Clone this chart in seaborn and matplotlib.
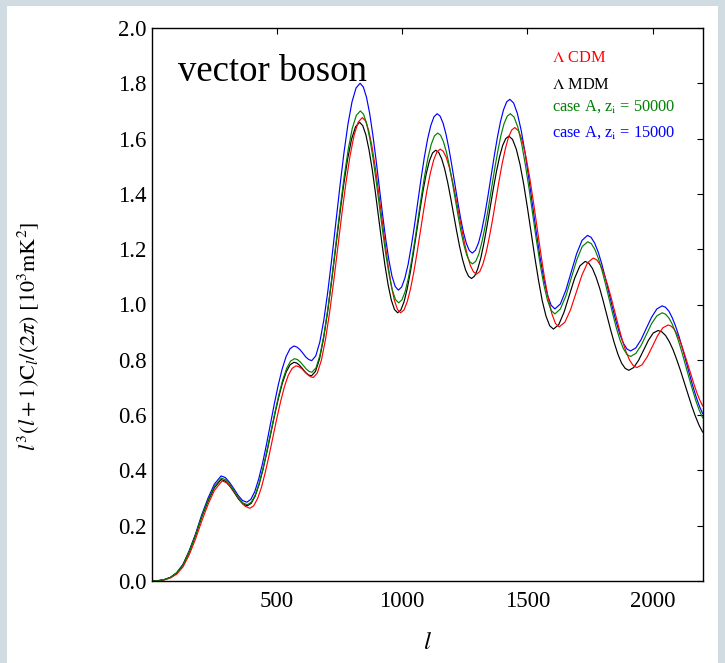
import matplotlib
matplotlib.use("Agg")
import matplotlib.pyplot as plt
from matplotlib.patches import Rectangle
import seaborn as sns
import pandas as pd

# ---- spectra: multipole l and l^3(l+1)C_l/(2pi) in 10^3 mK^2 ----
l_cdm = [0, 25, 50, 75, 100, 125, 150, 175, 200, 225, 250,
         281, 299.5, 318, 336.5, 355, 373.5,
         392, 407.3, 422.7, 438, 453.3, 468.7, 484, 499.3, 514.7, 530, 545.3, 560.7,
         576, 587.5, 599, 610.5, 622, 633.5,
         645, 661.3, 677.7, 694, 710.3, 726.7, 743, 759.3, 775.7, 792, 808.3, 824.7,
         841, 853.8, 866.5, 879.3, 892, 904.8, 917.5, 930.3, 943, 955.8, 968.5, 981.3,
         994, 1007.2, 1020.3, 1033.5, 1046.7, 1059.8, 1073, 1086.2, 1099.3, 1112.5, 1125.7, 1138.8,
         1152, 1164.1, 1176.2, 1188.3, 1200.3, 1212.4, 1224.5, 1236.6, 1248.7, 1260.8, 1272.8, 1284.9,
         1297, 1309.8, 1322.5, 1335.3, 1348, 1360.8, 1373.5, 1386.3, 1399, 1411.8, 1424.5, 1437.3,
         1450, 1464.8, 1479.5, 1494.3, 1509, 1523.8, 1538.5, 1553.3, 1568, 1582.8, 1597.5, 1612.3,
         1627, 1649.7, 1672.3, 1695, 1717.7, 1740.3,
         1763, 1777.5, 1792, 1806.5, 1821, 1835.5, 1850, 1864.5, 1879, 1893.5, 1908, 1922.5,
         1937, 1957.8, 1978.7, 1999.5, 2020.3, 2041.2,
         2062, 2073.5, 2085, 2096.5, 2108, 2119.5, 2131, 2142.5, 2154, 2165.5, 2177, 2188.5, 2200]
cl_cdm = [0, 0.001, 0.004, 0.011, 0.025, 0.051, 0.095, 0.152, 0.217, 0.277, 0.327,
          0.362, 0.355, 0.337, 0.313, 0.288, 0.270,
          0.263, 0.272, 0.298, 0.338, 0.392, 0.454, 0.521, 0.587, 0.649, 0.703, 0.744, 0.769,
          0.778, 0.775, 0.768, 0.757, 0.747, 0.739,
          0.736, 0.752, 0.799, 0.874, 0.971, 1.084, 1.206, 1.328, 1.441, 1.538, 1.613, 1.660,
          1.676, 1.664, 1.629, 1.573, 1.500, 1.414, 1.323, 1.232, 1.147, 1.073, 1.017, 0.982,
          0.970, 0.980, 1.010, 1.057, 1.118, 1.189, 1.266, 1.343, 1.414, 1.475, 1.522, 1.552,
          1.562, 1.554, 1.532, 1.496, 1.449, 1.395, 1.336, 1.278, 1.223, 1.176, 1.140, 1.118,
          1.110, 1.119, 1.146, 1.188, 1.243, 1.306, 1.375, 1.444, 1.508, 1.562, 1.605, 1.631,
          1.640, 1.628, 1.592, 1.534, 1.460, 1.373, 1.280, 1.186, 1.099, 1.025, 0.967, 0.931,
          0.919, 0.936, 0.981, 1.044, 1.106, 1.151,
          1.168, 1.161, 1.142, 1.110, 1.069, 1.021, 0.970, 0.919, 0.871, 0.830, 0.799, 0.779,
          0.772, 0.782, 0.811, 0.849, 0.888, 0.916,
          0.926, 0.922, 0.912, 0.894, 0.871, 0.843, 0.811, 0.778, 0.744, 0.711, 0.680, 0.654, 0.633]

l_mdm = [0, 25, 50, 75, 100, 125, 150, 175, 200, 225, 250,
         277, 294.5, 312, 329.5, 347, 364.5,
         382, 397.5, 413, 428.5, 444, 459.5, 475, 490.5, 506, 521.5, 537, 552.5,
         568, 579.7, 591.3, 603, 614.7, 626.3,
         638, 654, 670, 686, 702, 718, 734, 750, 766, 782, 798, 814,
         830, 842.7, 855.3, 868, 880.7, 893.3, 906, 918.7, 931.3, 944, 956.7, 969.3,
         982, 994.7, 1007.3, 1020, 1032.7, 1045.3, 1058, 1070.7, 1083.3, 1096, 1108.7, 1121.3,
         1134, 1145.9, 1157.8, 1169.8, 1181.7, 1193.6, 1205.5, 1217.4, 1229.3, 1241.3, 1253.2, 1265.1,
         1277, 1289.4, 1301.8, 1314.3, 1326.7, 1339.1, 1351.5, 1363.9, 1376.3, 1388.8, 1401.2, 1413.6,
         1426, 1440.8, 1455.7, 1470.5, 1485.3, 1500.2, 1515, 1529.8, 1544.7, 1559.5, 1574.3, 1589.2,
         1604, 1625.2, 1646.3, 1667.5, 1688.7, 1709.8,
         1731, 1745.5, 1760, 1774.5, 1789, 1803.5, 1818, 1832.5, 1847, 1861.5, 1876, 1890.5,
         1905, 1924.5, 1944, 1963.5, 1983, 2002.5,
         2022, 2036.8, 2051.7, 2066.5, 2081.3, 2096.2, 2111, 2125.8, 2140.7, 2155.5, 2170.3, 2185.2, 2200]
cl_mdm = [0, 0.001, 0.005, 0.013, 0.029, 0.058, 0.106, 0.165, 0.232, 0.289, 0.337,
          0.367, 0.361, 0.343, 0.320, 0.296, 0.278,
          0.272, 0.281, 0.307, 0.348, 0.402, 0.464, 0.532, 0.599, 0.661, 0.715, 0.756, 0.782,
          0.791, 0.788, 0.779, 0.767, 0.754, 0.745,
          0.742, 0.758, 0.803, 0.876, 0.971, 1.082, 1.201, 1.319, 1.430, 1.525, 1.598, 1.643,
          1.659, 1.647, 1.613, 1.558, 1.487, 1.404, 1.315, 1.225, 1.142, 1.071, 1.016, 0.982,
          0.970, 0.980, 1.009, 1.056, 1.117, 1.188, 1.264, 1.340, 1.411, 1.472, 1.519, 1.548,
          1.558, 1.550, 1.527, 1.490, 1.442, 1.386, 1.326, 1.266, 1.210, 1.162, 1.125, 1.102,
          1.094, 1.103, 1.129, 1.169, 1.223, 1.285, 1.352, 1.418, 1.480, 1.534, 1.575, 1.600,
          1.609, 1.597, 1.562, 1.507, 1.435, 1.350, 1.260, 1.170, 1.086, 1.013, 0.958, 0.923,
          0.911, 0.927, 0.972, 1.034, 1.095, 1.140,
          1.156, 1.149, 1.130, 1.098, 1.058, 1.010, 0.959, 0.908, 0.861, 0.820, 0.788, 0.769,
          0.762, 0.772, 0.798, 0.834, 0.870, 0.897,
          0.906, 0.901, 0.888, 0.866, 0.837, 0.801, 0.762, 0.720, 0.677, 0.635, 0.597, 0.564, 0.538]

l_a50 = [0, 25, 50, 75, 100, 125, 150, 175, 200, 225, 250,
         278, 295.3, 312.7, 330, 347.3, 364.7,
         382, 397.7, 413.3, 429, 444.7, 460.3, 476, 491.7, 507.3, 523, 538.7, 554.3,
         570, 581.7, 593.3, 605, 616.7, 628.3,
         640, 656.1, 672.2, 688.3, 704.3, 720.4, 736.5, 752.6, 768.7, 784.8, 800.8, 816.9,
         833, 845.8, 858.5, 871.3, 884, 896.8, 909.5, 922.3, 935, 947.8, 960.5, 973.3,
         986, 999, 1012, 1025, 1038, 1051, 1064, 1077, 1090, 1103, 1116, 1129,
         1142, 1153.6, 1165.2, 1176.8, 1188.3, 1199.9, 1211.5, 1223.1, 1234.7, 1246.3, 1257.8, 1269.4,
         1281, 1293.6, 1306.2, 1318.7, 1331.3, 1343.9, 1356.5, 1369.1, 1381.7, 1394.2, 1406.8, 1419.4,
         1432, 1446.8, 1461.7, 1476.5, 1491.3, 1506.2, 1521, 1535.8, 1550.7, 1565.5, 1580.3, 1595.2,
         1610, 1631.8, 1653.7, 1675.5, 1697.3, 1719.2,
         1741, 1755.3, 1769.5, 1783.8, 1798, 1812.3, 1826.5, 1840.8, 1855, 1869.3, 1883.5, 1897.8,
         1912, 1933, 1954, 1975, 1996, 2017,
         2038, 2051.5, 2065, 2078.5, 2092, 2105.5, 2119, 2132.5, 2146, 2159.5, 2173, 2186.5, 2200]
cl_a50 = [0, 0.001, 0.005, 0.013, 0.030, 0.059, 0.108, 0.167, 0.235, 0.293, 0.342,
          0.372, 0.366, 0.348, 0.324, 0.300, 0.282,
          0.276, 0.285, 0.311, 0.353, 0.408, 0.472, 0.540, 0.608, 0.672, 0.727, 0.769, 0.795,
          0.804, 0.801, 0.792, 0.780, 0.767, 0.758,
          0.755, 0.771, 0.818, 0.893, 0.991, 1.105, 1.228, 1.350, 1.464, 1.562, 1.637, 1.684,
          1.700, 1.688, 1.654, 1.598, 1.527, 1.443, 1.353, 1.263, 1.180, 1.108, 1.053, 1.018,
          1.006, 1.017, 1.047, 1.096, 1.160, 1.234, 1.313, 1.393, 1.467, 1.530, 1.579, 1.610,
          1.620, 1.612, 1.588, 1.551, 1.502, 1.445, 1.384, 1.322, 1.265, 1.216, 1.179, 1.155,
          1.147, 1.156, 1.183, 1.227, 1.283, 1.348, 1.419, 1.489, 1.554, 1.611, 1.654, 1.681,
          1.690, 1.678, 1.642, 1.584, 1.509, 1.422, 1.328, 1.234, 1.147, 1.072, 1.015, 0.978,
          0.966, 0.984, 1.031, 1.097, 1.162, 1.210,
          1.227, 1.220, 1.199, 1.166, 1.123, 1.073, 1.020, 0.966, 0.916, 0.873, 0.840, 0.819,
          0.812, 0.823, 0.852, 0.891, 0.931, 0.959,
          0.970, 0.965, 0.951, 0.929, 0.898, 0.862, 0.821, 0.777, 0.733, 0.691, 0.651, 0.617, 0.590]

l_a15 = [0, 25, 50, 75, 100, 125, 150, 175, 200, 225, 250,
         277, 294.2, 311.3, 328.5, 345.7, 362.8,
         380, 395.7, 411.3, 427, 442.7, 458.3, 474, 489.7, 505.3, 521, 536.7, 552.3,
         568, 579.8, 591.7, 603.5, 615.3, 627.2,
         639, 655.1, 671.2, 687.3, 703.3, 719.4, 735.5, 751.6, 767.7, 783.8, 799.8, 815.9,
         832, 844.8, 857.5, 870.3, 883, 895.8, 908.5, 921.3, 934, 946.8, 959.5, 972.3,
         985, 997.9, 1010.8, 1023.8, 1036.7, 1049.6, 1062.5, 1075.4, 1088.3, 1101.3, 1114.2, 1127.1,
         1140, 1151.7, 1163.3, 1175, 1186.7, 1198.3, 1210, 1221.7, 1233.3, 1245, 1256.7, 1268.3,
         1280, 1292.5, 1305, 1317.5, 1330, 1342.5, 1355, 1367.5, 1380, 1392.5, 1405, 1417.5,
         1430, 1445, 1460, 1475, 1490, 1505, 1520, 1535, 1550, 1565, 1580, 1595,
         1610, 1631.7, 1653.3, 1675, 1696.7, 1718.3,
         1740, 1754.3, 1768.7, 1783, 1797.3, 1811.7, 1826, 1840.3, 1854.7, 1869, 1883.3, 1897.7,
         1912, 1933, 1954, 1975, 1996, 2017,
         2038, 2051.5, 2065, 2078.5, 2092, 2105.5, 2119, 2132.5, 2146, 2159.5, 2173, 2186.5, 2200]
cl_a15 = [0, 0.001, 0.005, 0.013, 0.030, 0.060, 0.110, 0.170, 0.240, 0.300, 0.350,
          0.380, 0.374, 0.356, 0.333, 0.309, 0.291,
          0.285, 0.295, 0.323, 0.368, 0.426, 0.494, 0.568, 0.641, 0.709, 0.767, 0.812, 0.840,
          0.850, 0.846, 0.837, 0.824, 0.810, 0.801,
          0.797, 0.814, 0.864, 0.944, 1.048, 1.169, 1.299, 1.428, 1.549, 1.653, 1.733, 1.783,
          1.800, 1.787, 1.750, 1.691, 1.613, 1.523, 1.426, 1.329, 1.239, 1.162, 1.102, 1.065,
          1.052, 1.063, 1.095, 1.145, 1.212, 1.288, 1.371, 1.454, 1.531, 1.597, 1.647, 1.679,
          1.690, 1.681, 1.656, 1.616, 1.564, 1.503, 1.438, 1.373, 1.312, 1.260, 1.220, 1.195,
          1.186, 1.196, 1.223, 1.267, 1.325, 1.392, 1.464, 1.536, 1.603, 1.661, 1.705, 1.733,
          1.742, 1.729, 1.691, 1.631, 1.553, 1.461, 1.363, 1.265, 1.174, 1.095, 1.035, 0.997,
          0.984, 1.002, 1.051, 1.117, 1.184, 1.232,
          1.250, 1.243, 1.222, 1.189, 1.146, 1.095, 1.041, 0.987, 0.937, 0.893, 0.860, 0.839,
          0.832, 0.843, 0.873, 0.914, 0.954, 0.984,
          0.995, 0.990, 0.976, 0.952, 0.921, 0.884, 0.842, 0.797, 0.752, 0.708, 0.668, 0.633, 0.605]

labels = [r"$\Lambda$ CDM", r"$\Lambda$ MDM",
          r"case A, z$_\mathrm{i}$ = 50000", r"case A, z$_\mathrm{i}$ = 15000"]
colors = ["#ff0000", "#000000", "#008000", "#0000ff"]
x_ticks = [500, 1000, 1500, 2000]
y_ticks = [0.0, 0.2, 0.4, 0.6, 0.8, 1.0, 1.2, 1.4, 1.6, 1.8, 2.0]

sns.set_theme(style="white")
plt.rcParams["font.family"] = ["Liberation Serif", "DejaVu Serif"]
plt.rcParams["mathtext.fontset"] = "stix"
plt.rcParams["text.color"] = "black"
plt.rcParams["axes.labelcolor"] = "black"
plt.rcParams["xtick.color"] = "black"
plt.rcParams["ytick.color"] = "black"

fig = plt.figure(figsize=(7.25, 6.63), dpi=100)
fig.patch.set_facecolor("#d0dce2")
fig.patches.append(Rectangle((7 / 725, 0), (718 - 7) / 725, (663 - 6) / 663,
                             transform=fig.transFigure, facecolor="white",
                             edgecolor="none", zorder=-10))

ax = fig.add_axes([151.7 / 725, 82 / 663, 551 / 725, 553 / 663])
ax.set_facecolor("white")

series = [(l_cdm, cl_cdm), (l_mdm, cl_mdm), (l_a50, cl_a50), (l_a15, cl_a15)]
frames = []
for (lv, cv), lab in zip(series, labels):
    frames.append(pd.DataFrame({"l": lv, "cl": cv, "model": lab}))
df = pd.concat(frames, ignore_index=True)

for idx in [3, 1, 0, 2]:
    sub = df[df["model"] == labels[idx]]
    sns.lineplot(data=sub, x="l", y="cl", color=colors[idx], linewidth=0.85,
                 estimator=None, sort=False, ax=ax, legend=False)

ax.set_xlim(0, 2200)
ax.set_ylim(0, 2.0)
ax.set_xticks(x_ticks)
ax.set_yticks(y_ticks)
ax.set_yticklabels([f"{v:.1f}" for v in y_ticks])
ax.tick_params(direction="in", top=True, right=True, length=4.5, width=0.8,
               labelsize=16.5, colors="black")
ax.tick_params(axis="x", pad=7)
ax.tick_params(axis="y", pad=3.5)
for s in ax.spines.values():
    s.set_color("black")
    s.set_linewidth(1.0)

ax.set_xlabel("")
ax.set_ylabel("")
fig.text(427 / 725, 1 - 643 / 663, r"$l$", fontsize=18, ha="center", va="center")
fig.text(28 / 725, 1 - 336 / 663,
         r"$l^3(l+1)\mathrm{C}_l/(2\pi)\ [10^3\mathrm{mK}^2]$",
         fontsize=16, rotation=90, ha="center", va="center")

ax.text(0.0477, 0.904, "vector boson", transform=ax.transAxes,
        fontsize=26.5, va="baseline", ha="left", color="black")

legend_y = [58, 85, 107, 133]
for lab, col, yy in zip(labels, colors, legend_y):
    ax.text((551.7 - 151.7) / 551, (581 - yy) / 553, lab, color=col,
            transform=ax.transAxes, fontsize=11.8, ha="left", va="center")

fig.savefig("out.png", dpi=100, facecolor=fig.get_facecolor())
